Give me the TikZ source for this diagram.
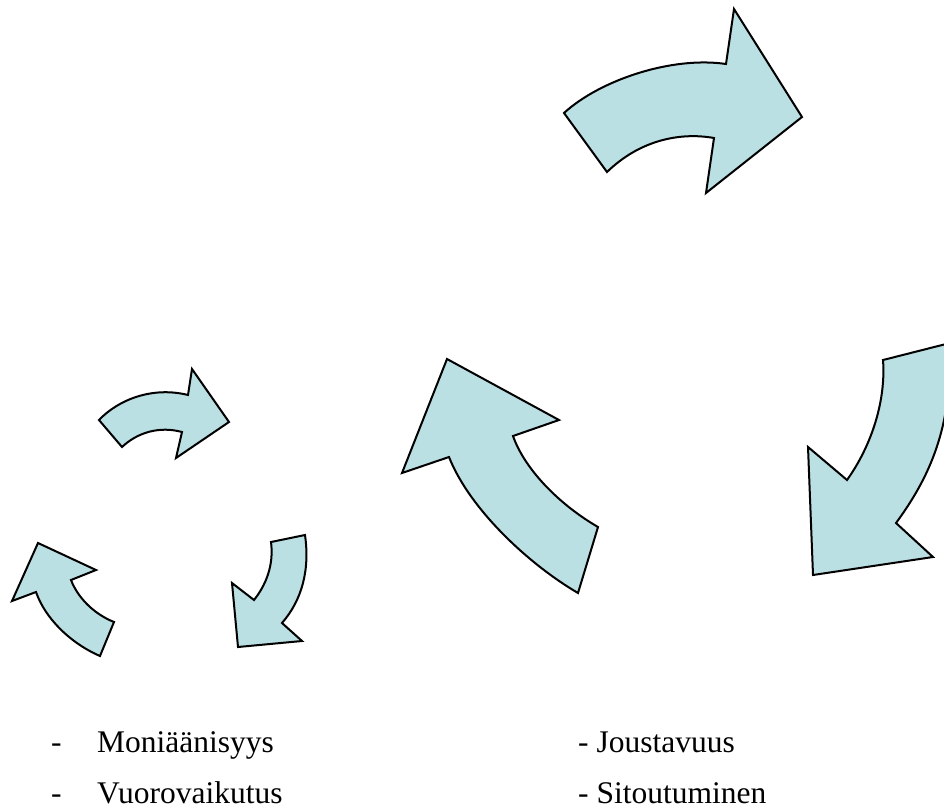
\documentclass[tikz,border=0pt]{standalone}
\usepackage{fontspec}
\setmainfont{Liberation Serif}
\definecolor{arrowfill}{RGB}{187,224,227}
\tikzset{
  curvedarrow/.style={fill=arrowfill, draw=black, line width=2pt, line join=miter},
  label/.style={anchor=base west, inner sep=0pt, font=\fontsize{31.5}{36}\selectfont}
}
\begin{document}
\begin{tikzpicture}[x=1pt,y=-1pt]
\useasboundingbox (0,0) rectangle (944,811);
\clip (0,0) rectangle (944,811);
% big top arrow
\draw[curvedarrow] (564,113) .. controls (600,80) and (672,56) .. (726,64)
  -- (734,9) -- (802,117) -- (706,193) -- (714,138)
  .. controls (680,132) and (640,140) .. (607,172) -- cycle;
% big middle arrow
\draw[curvedarrow] (578,593) .. controls (530,565) and (470,510) .. (449,457)
  -- (402,473) -- (447,359) -- (559,420) -- (513,436)
  .. controls (525,470) and (560,505) .. (598,527) -- cycle;
% big right arrow
\draw[curvedarrow] (950,343) .. controls (952,420) and (935,470) .. (896,523)
  -- (933,557) -- (813,575) -- (808,447) -- (847,480)
  .. controls (872,445) and (886,400) .. (883,360) -- cycle;
% small top arrow
\draw[curvedarrow] (99,420) .. controls (118,400) and (152,386) .. (188,395)
  -- (192,369) -- (229,422) -- (176,458) -- (182,432)
  .. controls (160,426) and (138,432) .. (122,447) -- cycle;
% small bottom-left arrow
\draw[curvedarrow] (100,656) .. controls (70,643) and (45,618) .. (36,592)
  -- (12,601) -- (38,543) -- (96,570) -- (71,580)
  .. controls (78,598) and (94,614) .. (114,622) -- cycle;
% small bottom-right arrow
\draw[curvedarrow] (305,535) .. controls (310,570) and (302,600) .. (282,623)
  -- (302,641) -- (238,647) -- (232,583) -- (254,600)
  .. controls (266,585) and (274,565) .. (271,542) -- cycle;
% texts
\node[label] (d1) at (51,752) {-};
\node[label] (t1) at (97,752) {Moniäänisyys};
\node[label] (d2) at (51,803) {-};
\node[label] (t2) at (97,803) {Vuorovaikutus};
\node[label] (t3) at (578,752) {- Joustavuus};
\node[label] (t4) at (578,803) {- Sitoutuminen};
\end{tikzpicture}
\end{document}
